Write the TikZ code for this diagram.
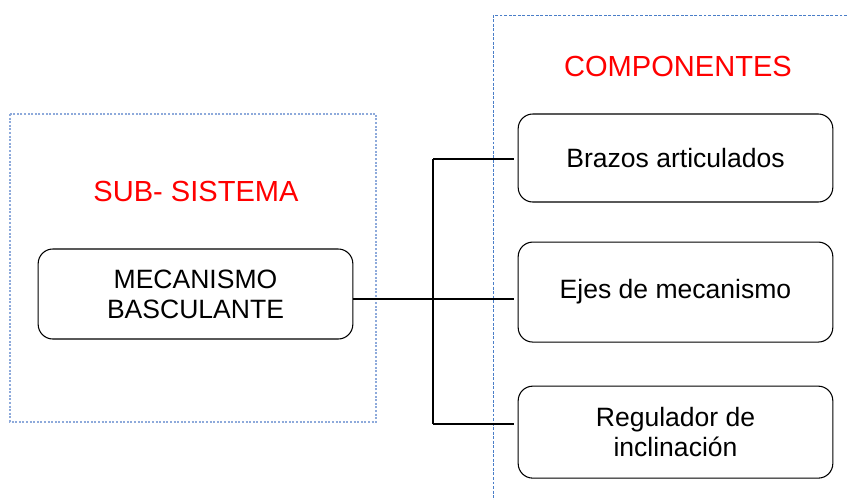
\documentclass[tikz,border=0pt]{standalone}
\usepackage{fontspec}
\setmainfont{Liberation Sans}
\usetikzlibrary{positioning}
\definecolor{ink}{HTML}{000000}
\definecolor{alert}{HTML}{FF0000}
\definecolor{zoneblue}{HTML}{8EAADB}
\definecolor{zonedark}{HTML}{4A7EC8}
\tikzset{
  box/.style={draw=ink,line width=0.8pt,fill=white,rounded corners=11pt,align=center,
    minimum width=236pt,font=\fontsize{19.9}{22.5}\selectfont},
  title/.style={text=alert,font=\fontsize{21.8}{24}\selectfont,inner sep=0pt},
  link/.style={draw=ink,line width=1.5pt},
  zone/.style={draw=zoneblue,line width=0.8pt,dash pattern=on 1.5pt off 1.2pt},
  zonedash/.style={draw=zonedark,line width=0.75pt,dash pattern=on 2.2pt off 1.2pt}}

\begin{document}
\begin{tikzpicture}[x=0.75pt,y=-0.75pt]
  \useasboundingbox (0,0) rectangle (847,500);
  % groups
  \draw[zone] (10,114) rectangle (376,422);
  \draw[zonedash] (847,15) -- (493,15) -- (493,500);
  \node[title] (sub) at (196,191) {SUB- SISTEMA};
  \node[title] (comp) at (678,66) {COMPONENTES};
  % blocks
  \node[box,minimum height=67.5pt] (mec) at (195.5,294) {MECANISMO\\BASCULANTE};
  \node[box,minimum height=66pt] (bra) at (675.5,158) {Brazos articulados};
  \node[box,minimum height=75pt,below=29.25pt of bra] (eje) {Ejes de mecanismo};
  \node[box,minimum height=69pt,below=32.25pt of eje] (reg) {Regulador de\\inclinación};
  % connectors
  \coordinate (jt) at (433,159);
  \coordinate (jm) at (433,299);
  \coordinate (jb) at (433,424);
  \draw[link] (jm -| mec.east) -- (jm);
  \draw[link] (jt) -- (jb);
  \draw[link,shorten >=3pt] (jt) -- (jt -| bra.west);
  \draw[link,shorten >=3pt] (jm) -- (jm -| eje.west);
  \draw[link,shorten >=3pt] (jb) -- (jb -| reg.west);
\end{tikzpicture}
\end{document}
